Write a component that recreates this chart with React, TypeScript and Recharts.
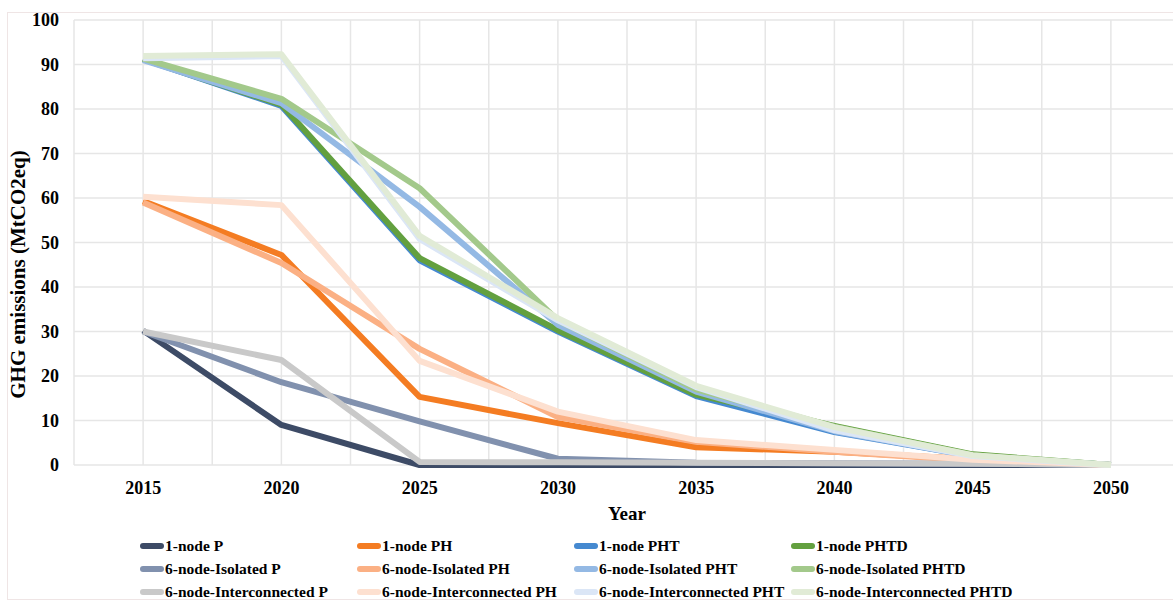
import { CartesianGrid, Label, Line, LineChart, XAxis, YAxis } from "recharts";

/** --------- Data --------- */
const years = [2015, 2020, 2025, 2030, 2035, 2040, 2045, 2050];
const gridYears = [
  2012.5, 2015, 2017.5, 2020, 2022.5, 2025, 2027.5, 2030, 2032.5, 2035, 2037.5,
  2040, 2042.5, 2045, 2047.5, 2050, 2052.5,
];
const yTicks = [0, 10, 20, 30, 40, 50, 60, 70, 80, 90, 100];

const node1P = [30.2, 9.0, 0, 0, 0, 0, 0, 0];
const node1PH = [59.3, 47.2, 15.3, 9.4, 4.0, 3.0, 1.3, 0];
const node1PHT = [91.2, 80.7, 46.0, 30.0, 15.5, 7.4, 2.0, 0];
const node1PHTD = [91.2, 81.0, 46.5, 30.3, 15.8, 8.8, 2.4, 0];
const isoP = [30.0, 18.6, 9.8, 1.4, 0.5, 0.4, 0.3, 0];
const isoPH = [59.0, 45.4, 26.1, 10.8, 5.2, 3.0, 1.0, 0];
const isoPHT = [91.0, 81.3, 58.0, 31.5, 16.5, 7.6, 2.0, 0];
const isoPHTD = [91.3, 82.3, 62.2, 32.5, 17.0, 8.6, 2.2, 0];
const interP = [30.0, 23.6, 0.7, 0.6, 0.5, 0.4, 0.3, 0];
const interPH = [60.3, 58.4, 23.4, 12.0, 5.6, 3.4, 1.2, 0];
const interPHT = [91.4, 91.9, 50.8, 32.5, 17.5, 7.8, 2.0, 0];
const interPHTD = [91.9, 92.3, 51.5, 33.0, 17.8, 8.5, 2.2, 0];

const series = [
  { key: "n1P", name: "1-node P", values: node1P, color: "#3d4b66" },
  { key: "n1PH", name: "1-node PH", values: node1PH, color: "#f47c22" },
  { key: "n1PHT", name: "1-node PHT", values: node1PHT, color: "#4589d0" },
  { key: "n1PHTD", name: "1-node PHTD", values: node1PHTD, color: "#63a03f" },
  { key: "isoP", name: "6-node-Isolated P", values: isoP, color: "#8191ae" },
  { key: "isoPH", name: "6-node-Isolated PH", values: isoPH, color: "#fbb084" },
  { key: "isoPHT", name: "6-node-Isolated PHT", values: isoPHT, color: "#94b9e4" },
  { key: "isoPHTD", name: "6-node-Isolated PHTD", values: isoPHTD, color: "#a3c98b" },
  { key: "intP", name: "6-node-Interconnected P", values: interP, color: "#c9c9c9" },
  { key: "intPH", name: "6-node-Interconnected PH", values: interPH, color: "#fde0d0" },
  { key: "intPHT", name: "6-node-Interconnected PHT", values: interPHT, color: "#dbe6f6" },
  { key: "intPHTD", name: "6-node-Interconnected PHTD", values: interPHTD, color: "#e1ebd6" },
];

const chartData = years.map((year, i) => {
  const row: Record<string, number> = { year };
  series.forEach((s) => (row[s.key] = s.values[i]));
  return row;
});

const FONT = '"Liberation Serif", "Times New Roman", serif';

/** --------- Helpers --------- */
const YTitle = ({ viewBox }: any) => {
  // title sits a little below the plot middle, as in the source
  const cx = viewBox.x + 18;
  const cy = viewBox.y + viewBox.height / 2 + 32;
  return (
    <text
      x={cx}
      y={cy}
      transform={`rotate(-90 ${cx} ${cy})`}
      textAnchor="middle"
      dominantBaseline="central"
      fontFamily={FONT}
      fontWeight="bold"
      fontSize={21}
      fill="#000"
    >
      GHG emissions (MtCO2eq)
    </text>
  );
};

const ChartLegend = () => (
  <div
    style={{
      position: "absolute",
      left: 140,
      top: 535,
      display: "grid",
      gridTemplateColumns: "217px 217px 217px 240px",
      rowGap: 1,
      fontFamily: FONT,
      fontWeight: "bold",
      fontSize: 15.5,
      color: "#000",
    }}
  >
    {series.map((s) => (
      <div key={s.key} style={{ display: "flex", alignItems: "center", height: 22 }}>
        <span
          style={{
            display: "inline-block",
            width: 24,
            height: 6,
            borderRadius: 3,
            background: s.color,
            marginRight: 1,
          }}
        />
        <span style={{ whiteSpace: "nowrap" }}>{s.name}</span>
      </div>
    ))}
  </div>
);

/** --------- Chart --------- */
export default function App() {
  return (
    <div
      style={{
        position: "absolute",
        left: 0,
        top: 0,
        width: 1173,
        height: 602,
        overflow: "hidden",
        background: "#fff",
      }}
    >
      <div
        style={{
          position: "absolute",
          left: 7,
          top: 12,
          width: 1190,
          height: 586,
          border: "1px solid #efe5e5",
        }}
      />
      <LineChart
        width={1190}
        height={602}
        data={chartData}
        margin={{ top: 20, right: 10, bottom: 82, left: 0 }}
      >
        <CartesianGrid stroke="#e6e6e6" strokeWidth={1.5} />
        <XAxis
          dataKey="year"
          type="number"
          domain={[2012.5, 2052.5]}
          ticks={gridYears}
          interval={0}
          tickFormatter={(v: number) => (v % 5 === 0 ? String(v) : "")}
          axisLine={false}
          tickLine={false}
          tickSize={0}
          tickMargin={16}
          height={55}
          tick={{ fontFamily: FONT, fontWeight: "bold", fontSize: 18, fill: "#000" }}
        >
          <Label
            value="Year"
            position="insideBottom"
            offset={0}
            style={{ fontFamily: FONT, fontWeight: "bold", fontSize: 19, fill: "#000" }}
          />
        </XAxis>
        <YAxis
          domain={[0, 100]}
          ticks={yTicks}
          interval={0}
          width={74}
          axisLine={false}
          tickLine={false}
          tickSize={0}
          tickMargin={15}
          tick={{ fontFamily: FONT, fontWeight: "bold", fontSize: 18, fill: "#000" }}
        >
          <Label content={<YTitle />} />
        </YAxis>
        {series.map((s) => (
          <Line
            key={s.key}
            type="linear"
            dataKey={s.key}
            name={s.name}
            stroke={s.color}
            strokeWidth={6}
            strokeLinejoin="round"
            dot={false}
            activeDot={false}
            isAnimationActive={false}
          />
        ))}
      </LineChart>
      <ChartLegend />
    </div>
  );
}
